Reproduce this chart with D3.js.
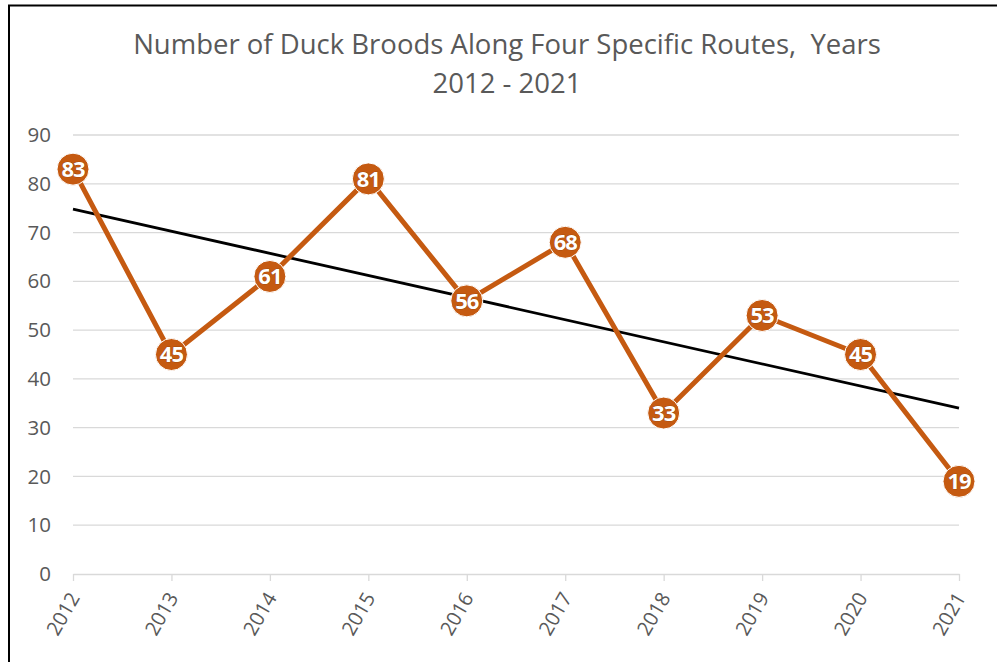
<!DOCTYPE html>
<html><head><meta charset="utf-8">
<script src="https://d3js.org/d3.v7.min.js"></script>
<style>body{margin:0;background:#fff}svg{display:block}</style>
</head><body>
<script>
const years = ["2012","2013","2014","2015","2016","2017","2018","2019","2020","2021"];
const broods = [83,45,61,81,56,68,33,53,45,19];
const yTicks = [0,10,20,30,40,50,60,70,80,90];
const titleLines = ["Number of Duck Broods Along Four Specific Routes,  Years","2012 - 2021"];

const W = 997, H = 662;
const font = "'Open Sans', sans-serif";
const svg = d3.select("body").append("svg").attr("width", W).attr("height", H);

svg.append("rect").attr("x", 9).attr("y", 5.5).attr("width", W + 10).attr("height", H + 10)
  .attr("fill", "none").attr("stroke", "#000").attr("stroke-width", 2);

const x = d3.scalePoint().domain(years).range([73, 959]);
const y = d3.scaleLinear().domain([0, 90]).range([574, 135]);

const tg = svg.append("text").attr("text-anchor", "middle").attr("fill", "#595959")
  .style("font-family", font).style("font-size", "27.5px").style("white-space", "pre");
titleLines.forEach((t, i) => tg.append("tspan").attr("x", 507).attr("y", 54 + i * 38.5).text(t));

// gridlines
svg.append("g").selectAll("line").data(yTicks.filter(d => d > 0)).join("line")
  .attr("x1", 73).attr("x2", 959).attr("y1", d => y(d)).attr("y2", d => y(d))
  .attr("stroke", "#d9d9d9").attr("stroke-width", 1.3);

// y axis
const ya = svg.append("g").attr("transform", "translate(73,0)")
  .call(d3.axisLeft(y).tickValues(yTicks).tickSize(0).tickPadding(22));
ya.select(".domain").remove();
ya.selectAll("text").attr("fill", "#595959").style("font-family", font).style("font-size", "20.5px");

// x axis
const xa = svg.append("g").attr("transform", "translate(0,574)")
  .call(d3.axisBottom(x).tickSize(7).tickSizeOuter(0));
xa.select(".domain").attr("stroke", "#d9d9d9").attr("stroke-width", 1.3);
xa.selectAll(".tick line").attr("stroke", "#d9d9d9").attr("stroke-width", 1.3);
xa.selectAll("text").attr("fill", "#595959").style("font-family", font).style("font-size", "20px")
  .attr("text-anchor", "end").attr("dy", "0.35em")
  .attr("transform", "translate(1,20) rotate(-60)").attr("x", 0).attr("y", 0);

// trend (least squares)
const xs = broods.map((d, i) => i);
const mx = d3.mean(xs), my = d3.mean(broods);
const slope = d3.sum(xs, (v, i) => (v - mx) * (broods[i] - my)) / d3.sum(xs, v => (v - mx) ** 2);
const icpt = my - slope * mx;
svg.append("line")
  .attr("x1", x(years[0])).attr("y1", y(icpt))
  .attr("x2", x(years[years.length - 1])).attr("y2", y(icpt + slope * (years.length - 1)))
  .attr("stroke", "#000").attr("stroke-width", 2.8);

// series line
svg.append("path").datum(broods)
  .attr("d", d3.line().x((d, i) => x(years[i])).y(d => y(d)))
  .attr("fill", "none").attr("stroke", "#C55A11").attr("stroke-width", 5).attr("stroke-linejoin", "round");

const pts = svg.append("g").selectAll("g").data(broods).join("g")
  .attr("transform", (d, i) => `translate(${x(years[i])},${y(d)})`);
pts.append("circle").attr("r", 16).attr("fill", "#C55A11").attr("stroke", "#fff").attr("stroke-width", 1);
pts.append("text").text(d => d).attr("text-anchor", "middle").attr("dy", "0.36em")
  .attr("fill", "#fff").attr("stroke", "#8a3d0a").attr("stroke-width", 0.7).attr("paint-order", "stroke")
  .style("font-family", font).style("font-size", "22px").style("font-weight", "bold").style("letter-spacing", "-1px");
</script>
</body></html>
